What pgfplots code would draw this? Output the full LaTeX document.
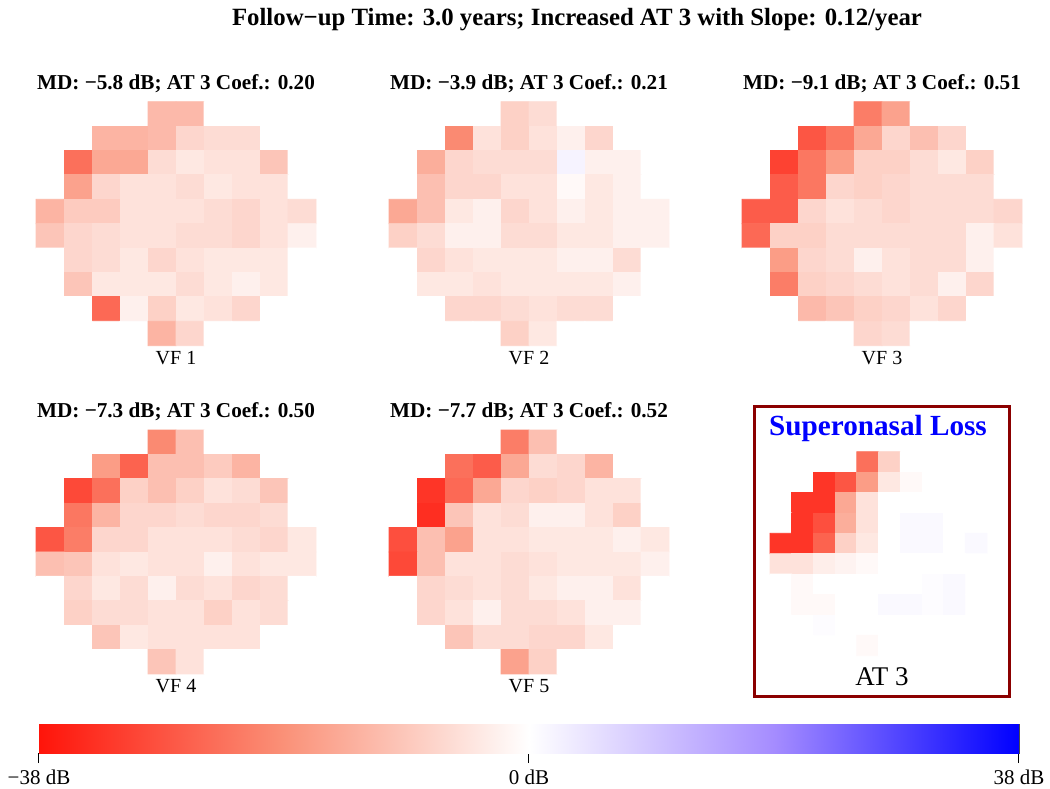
\documentclass[border=0pt]{standalone}
\usepackage{pgfplots}
\pgfplotsset{compat=1.18}
\usepackage{pgfplotstable}
\usepackage{fontspec}
\setmainfont{Liberation Serif}

\pgfplotsset{
  colormap={rwb}{rgb255=(255,20,10) rgb255=(250,145,120) rgb255=(255,255,255) rgb255=(165,140,255) rgb255=(0,0,255)},
  vf/.style={scale only axis, anchor=north west, width=140pt, height=122pt,
    hide axis, xmin=-0.5, xmax=9.5, ymin=-0.5, ymax=9.5, y dir=reverse, enlargelimits=false,
    colormap name=rwb, point meta min=-38, point meta max=38, clip=false},
}

% one value (dB) per cell, rows top to bottom, 10 columns; cells outside the field are 0 (white)
\pgfplotstableread[row sep=\\]{v\\
0\\0\\0\\0\\-12\\-12\\0\\0\\0\\0\\
0\\0\\-13\\-13\\-12\\-7\\-6\\-6\\0\\0\\
0\\-24\\-15\\-15\\-6\\-4\\-5\\-5\\-10\\0\\
0\\-16\\-7\\-5\\-5\\-6\\-4\\-5\\-5\\0\\
-13\\-9\\-9\\-5\\-5\\-5\\-6\\-7\\-5\\-6\\
-10\\-7\\-6\\-5\\-5\\-6\\-6\\-7\\-5\\-2.5\\
0\\-7\\-6\\-4\\-7\\-5\\-4\\-4\\-4\\0\\
0\\-10\\-4\\-4\\-4\\-6\\-4\\-2.5\\-4\\0\\
0\\0\\-25\\-2.5\\-8\\-4\\-5\\-7\\0\\0\\
0\\0\\0\\0\\-13\\-7\\0\\0\\0\\0\\
}\vfA

\pgfplotstableread[row sep=\\]{v\\
0\\0\\0\\0\\-8\\-6\\0\\0\\0\\0\\
0\\0\\-20\\-5\\-8\\-5\\-2.5\\-7\\0\\0\\
0\\-14\\-7\\-6\\-6\\-6\\2\\-2.5\\-2.5\\0\\
0\\-11\\-7\\-7\\-5\\-5\\-1\\-4\\-2.5\\0\\
-15\\-11\\-4\\-2.5\\-7\\-5\\-2.5\\-4\\-2.5\\-2.5\\
-8\\-6\\-2.5\\-2.5\\-6\\-6\\-4\\-4\\-2.5\\-2.5\\
0\\-7\\-5\\-4\\-4\\-4\\-2.5\\-2.5\\-6\\0\\
0\\-4\\-4\\-5\\-4\\-4\\-4\\-4\\-2.5\\0\\
0\\0\\-7\\-7\\-6\\-5\\-6\\-6\\0\\0\\
0\\0\\0\\0\\-8\\-4\\0\\0\\0\\0\\
}\vfB

\pgfplotstableread[row sep=\\]{v\\
0\\0\\0\\0\\-22\\-16\\0\\0\\0\\0\\
0\\0\\-28\\-23\\-15\\-7\\-11\\-7\\0\\0\\
0\\-31\\-23\\-17\\-8\\-8\\-6\\-4\\-8\\0\\
0\\-27\\-23\\-7\\-8\\-7\\-6\\-6\\-6\\0\\
-27\\-27\\-7\\-5\\-6\\-7\\-6\\-6\\-6\\-7\\
-25\\-8\\-8\\-6\\-6\\-6\\-6\\-6\\-2.5\\-5\\
0\\-17\\-7\\-6\\-2.5\\-5\\-6\\-6\\-2.5\\0\\
0\\-22\\-8\\-7\\-6\\-5\\-6\\-2.5\\-7\\0\\
0\\0\\-12\\-10\\-8\\-7\\-5\\-7\\0\\0\\
0\\0\\0\\0\\-7\\-6\\0\\0\\0\\0\\
}\vfC

\pgfplotstableread[row sep=\\]{v\\
0\\0\\0\\0\\-20\\-11\\0\\0\\0\\0\\
0\\0\\-17\\-26\\-11\\-11\\-9\\-13\\0\\0\\
0\\-30\\-24\\-8\\-11\\-8\\-5\\-6\\-10\\0\\
0\\-23\\-13\\-7\\-7\\-6\\-7\\-7\\-6\\0\\
-28\\-22\\-7\\-7\\-5\\-5\\-5\\-6\\-7\\-4\\
-11\\-10\\-5\\-4\\-5\\-5\\-2.5\\-5\\-4\\-4\\
0\\-7\\-4\\-6\\-2.5\\-6\\-5\\-7\\-6\\0\\
0\\-8\\-6\\-6\\-5\\-5\\-8\\-5\\-6\\0\\
0\\0\\-10\\-4\\-5\\-5\\-5\\-5\\0\\0\\
0\\0\\0\\0\\-10\\-5\\0\\0\\0\\0\\
}\vfD

\pgfplotstableread[row sep=\\]{v\\
0\\0\\0\\0\\-22\\-11\\0\\0\\0\\0\\
0\\0\\-24\\-27\\-15\\-6\\-7\\-13\\0\\0\\
0\\-33\\-25\\-15\\-7\\-8\\-7\\-5\\-5\\0\\
0\\-34\\-10\\-5\\-6\\-2.5\\-2.5\\-5\\-8\\0\\
-29\\-11\\-16\\-5\\-5\\-4\\-4\\-4\\-2.5\\-4\\
-30\\-11\\-5\\-5\\-6\\-5\\-4\\-4\\-4\\-2.5\\
0\\-7\\-6\\-5\\-6\\-4\\-2.5\\-2.5\\-5\\0\\
0\\-7\\-5\\-2.5\\-6\\-6\\-5\\-2.5\\-2.5\\0\\
0\\0\\-10\\-6\\-6\\-7\\-7\\-4\\0\\0\\
0\\0\\0\\0\\-16\\-8\\0\\0\\0\\0\\
}\vfE

\pgfplotstableread[row sep=\\]{v\\
0\\0\\0\\0\\-24\\-8\\0\\0\\0\\0\\
0\\0\\-33\\-28\\-17\\-4\\-1\\0\\0\\0\\
0\\-33\\-33\\-15\\-5\\0\\0\\0\\0\\0\\
0\\-33\\-29\\-14\\-5\\0\\1\\1\\0\\0\\
-33\\-33\\-26\\-8\\-4\\0\\1\\1\\0\\1\\
-5\\-5\\-3\\-2\\-1\\0\\0\\0\\0\\0\\
0\\-1\\0\\0\\0\\0\\0\\0.5\\1\\0\\
0\\-1\\-1\\0\\0\\1\\1\\0.5\\1\\0\\
0\\0\\0.5\\0\\0\\0\\0\\0\\0\\0\\
0\\0\\0\\0\\-1\\0\\0\\0\\0\\0\\
}\vfAT

\newcommand{\vfpanel}[5]{%
  \begin{axis}[vf, at={(#1,#2)}]
    \addplot[matrix plot, mesh/cols=10, point meta=explicit]
      table[x index=0, y index=0, x expr={mod(\coordindex,10)}, y expr={floor(\coordindex/10)}, meta index=0] {#3};
    \node[font=\fontsize{10.6}{12}\selectfont\bfseries] at (axis description cs:0.5,1) [yshift=9pt] {#4};
    \node[font=\fontsize{10}{12}\selectfont] at (axis description cs:0.5,0) [yshift=-6pt] {#5};
  \end{axis}}

\begin{document}
\begin{tikzpicture}
\useasboundingbox (0pt,0pt) rectangle (525pt,394pt);

\node[font=\fontsize{12.4}{14}\selectfont\bfseries] at (288.5pt,384pt) {Follow−up Time: 3.0 years; Increased AT 3 with Slope: 0.12/year};

\vfpanel{18pt}{343.15pt}{\vfA}{MD: −5.8 dB; AT 3 Coef.: 0.20}{VF 1}
\vfpanel{194.5pt}{343.15pt}{\vfB}{MD: −3.9 dB; AT 3 Coef.: 0.21}{VF 2}
\vfpanel{371pt}{343.15pt}{\vfC}{MD: −9.1 dB; AT 3 Coef.: 0.51}{VF 3}
\vfpanel{18pt}{179pt}{\vfD}{MD: −7.3 dB; AT 3 Coef.: 0.50}{VF 4}
\vfpanel{194.5pt}{179pt}{\vfE}{MD: −7.7 dB; AT 3 Coef.: 0.52}{VF 5}

% AT 3 panel
\draw[draw={rgb,255:red,139;green,0;blue,0}, line width=1.5pt] (377pt,46pt) rectangle (504.5pt,190.5pt);
\begin{axis}[vf, at={(385pt,168.15pt)}, width=108.5pt, height=102pt]
  \addplot[matrix plot, mesh/cols=10, point meta=explicit]
    table[x index=0, y index=0, x expr={mod(\coordindex,10)}, y expr={floor(\coordindex/10)}, meta index=0] {\vfAT};
\end{axis}
\node[font=\fontsize{14.6}{16}\selectfont\bfseries, text=blue] at (439pt,180pt) {Superonasal Loss};
\node[font=\fontsize{13.5}{15}\selectfont] at (441pt,55.5pt) {AT 3};

% colour bar
\begin{axis}[scale only axis, anchor=north west, at={(19.5pt,32pt)}, width=490pt, height=14.5pt,
  xmin=-38, xmax=38, ymin=0, ymax=1, enlargelimits=false,
  colormap name=rwb, point meta min=-38, point meta max=38,
  ytick=\empty, xtick={-38,0,38}, xticklabels={−38 dB,0 dB,38 dB},
  xtick pos=bottom, tick align=outside, major tick length=5pt,
  tick style={black, line width=0.5pt},
  axis line style={black!70, line width=0.4pt},
  xticklabel style={font=\fontsize{10.5}{12}\selectfont}]
  \addplot[surf, shader=interp, point meta=explicit] coordinates {
    (-38,0) [-38] (38,0) [38]

    (-38,1) [-38] (38,1) [38]
  };
\end{axis}
\end{tikzpicture}
\end{document}
